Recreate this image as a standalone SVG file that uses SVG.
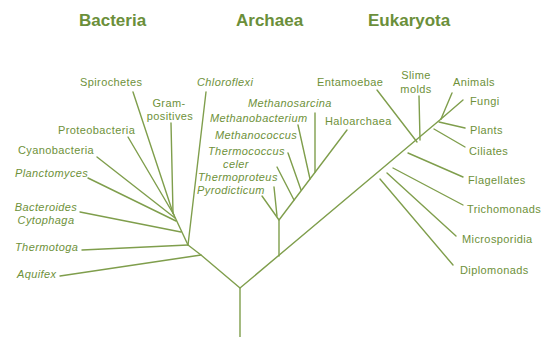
<svg xmlns="http://www.w3.org/2000/svg" width="555" height="337" viewBox="0 0 555 337">
<style>
.t{font-family:"Liberation Sans",Arial,sans-serif;font-size:17px;font-weight:bold;fill:#6b8f3a}
.l{font-family:"Liberation Sans",Arial,sans-serif;font-size:11px;letter-spacing:0.4px;fill:#6e913a}
.i{font-style:italic}
.c{text-anchor:middle}
.e{stroke:#7f9e4c;stroke-width:1.4;fill:none;stroke-linecap:round;stroke-linejoin:round}
</style>
<rect width="555" height="337" fill="#ffffff"/>
<g id="titles">
<text class="t" x="79" y="26">Bacteria</text>
<text class="t" x="236" y="26">Archaea</text>
<text class="t" x="368" y="26">Eukaryota</text>
</g>
<g id="connectors" class="e">
<path d="M240,337 L240,288 L201,255 L188,245 L173,213"/>
<path d="M240,288 L441,119"/>
<path d="M60,276 L201,255"/>
<path d="M82,250 L188,245"/>
<path d="M80,212 L181,232"/>
<path d="M88,178 L176,221"/>
<path d="M97,157 L175,218"/>
<path d="M128,137 L174,215"/>
<path d="M133,92 L173,213"/>
<path d="M171,123 L173,213"/>
<path d="M206,92 L188,245"/>
<path d="M279,256 L279,220 L347,130"/>
<path d="M262,196 L279,220"/>
<path d="M274,187 L277,216"/>
<path d="M277,167 L294,200"/>
<path d="M288,153 L301,190"/>
<path d="M298,125 L310,179"/>
<path d="M315,113 L315,172"/>
<path d="M377,90 L417,142"/>
<path d="M419,96 L420,140"/>
<path d="M452,93 L441,119"/>
<path d="M463,100 L441,119"/>
<path d="M465,128 L439,122"/>
<path d="M465,147 L434,129"/>
<path d="M463,177 L408,153"/>
<path d="M463,205 L393,168"/>
<path d="M456,236 L387,173"/>
<path d="M453,265 L380,179"/>
</g>
<g id="bacteria">
<text class="l" x="80" y="86">Spirochetes</text>
<text class="l c" x="169" y="107">Gram-</text>
<text class="l c" x="170" y="120">positives</text>
<text class="l" x="58" y="134">Proteobacteria</text>
<text class="l" x="18" y="154">Cyanobacteria</text>
<text class="l i" x="15" y="177">Planctomyces</text>
<text class="l i c" x="46" y="211">Bacteroides</text>
<text class="l i c" x="46" y="224">Cytophaga</text>
<text class="l i" x="15" y="251">Thermotoga</text>
<text class="l i" x="17" y="278">Aquifex</text>
<text class="l i" x="197" y="86">Chloroflexi</text>
</g>
<g id="archaea">
<text class="l i" x="248" y="107">Methanosarcina</text>
<text class="l i" x="210" y="122">Methanobacterium</text>
<text class="l i" x="215" y="139">Methanococcus</text>
<text class="l i" x="208" y="155">Thermococcus</text>
<text class="l i c" x="236" y="168">celer</text>
<text class="l i" x="198" y="181">Thermoproteus</text>
<text class="l i" x="197" y="194">Pyrodicticum</text>
<text class="l" x="325" y="125">Haloarchaea</text>
</g>
<g id="eukaryota">
<text class="l" x="317" y="86">Entamoebae</text>
<text class="l c" x="416" y="79">Slime</text>
<text class="l c" x="416" y="93">molds</text>
<text class="l" x="453" y="86">Animals</text>
<text class="l" x="470" y="105">Fungi</text>
<text class="l" x="470" y="134">Plants</text>
<text class="l" x="469" y="155">Ciliates</text>
<text class="l" x="468" y="184">Flagellates</text>
<text class="l" x="467" y="213">Trichomonads</text>
<text class="l" x="462" y="243">Microsporidia</text>
<text class="l" x="460" y="274">Diplomonads</text>
</g>
</svg>
